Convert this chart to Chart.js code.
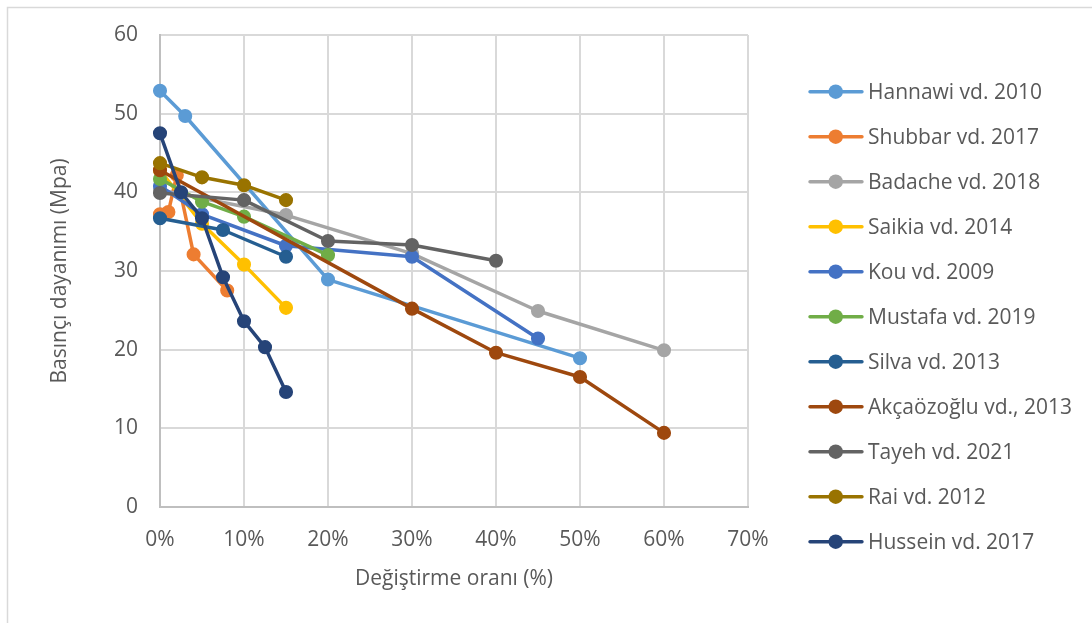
<!DOCTYPE html>
<html lang="tr">
<head>
<meta charset="utf-8">
<title>Basınç dayanımı – değiştirme oranı</title>
<script src="https://cdn.jsdelivr.net/npm/chart.js@4.4.1/dist/chart.umd.min.js"></script>
<style>
  html, body { margin: 0; padding: 0; background: #ffffff; }
  #wrap { width: 1092px; height: 623px; }
</style>
</head>
<body>
<div id="wrap"><canvas id="c" width="1092" height="623"></canvas></div>
<script>
// Replacement ratio (%) and compressive strength (MPa) for each study
const hannawiX = [0, 3, 20, 50];
const hannawiY = [52.9, 49.7, 28.9, 18.9];
const shubbarX = [0, 1, 2, 4, 8];
const shubbarY = [37.2, 37.5, 42.2, 32.1, 27.5];
const badacheX = [0, 15, 30, 45, 60];
const badacheY = [40.3, 37.1, 32.2, 24.9, 19.9];
const saikiaX = [0, 5, 10, 15];
const saikiaY = [42.8, 36.0, 30.8, 25.3];
const kouX = [0, 5, 15, 30, 45];
const kouY = [40.8, 37.2, 33.2, 31.8, 21.4];
const mustafaX = [0, 5, 10, 20];
const mustafaY = [41.7, 38.8, 36.9, 32.0];
const silvaX = [0, 7.5, 15];
const silvaY = [36.7, 35.2, 31.8];
const akcaX = [0, 30, 40, 50, 60];
const akcaY = [42.8, 25.2, 19.6, 16.5, 9.4];
const tayehX = [0, 10, 20, 30, 40];
const tayehY = [39.9, 39.0, 33.8, 33.3, 31.3];
const raiX = [0, 5, 10, 15];
const raiY = [43.7, 41.9, 40.9, 39.0];
const husseinX = [0, 2.5, 5, 7.5, 10, 12.5, 15];
const husseinY = [47.5, 40.0, 36.7, 29.2, 23.6, 20.3, 14.6];

const seriesNames = [
  'Hannawi vd. 2010', 'Shubbar vd. 2017', 'Badache vd. 2018', 'Saikia vd. 2014',
  'Kou vd. 2009', 'Mustafa vd. 2019', 'Silva vd. 2013', 'Akçaözoğlu vd., 2013',
  'Tayeh vd. 2021', 'Rai vd. 2012', 'Hussein vd. 2017'
];
const seriesX = [hannawiX, shubbarX, badacheX, saikiaX, kouX, mustafaX, silvaX, akcaX, tayehX, raiX, husseinX];
const seriesY = [hannawiY, shubbarY, badacheY, saikiaY, kouY, mustafaY, silvaY, akcaY, tayehY, raiY, husseinY];
const seriesColors = [
  '#5B9BD5', '#ED7D31', '#A5A5A5', '#FFC000', '#4472C4', '#70AD47',
  '#255E91', '#9E480E', '#636363', '#997300', '#264478'
];

const xTicks = [0, 10, 20, 30, 40, 50, 60, 70];
const yTicks = [0, 10, 20, 30, 40, 50, 60];

const FONT = "'Open Sans', 'Noto Sans', sans-serif";
const TEXT = '#595959';

const datasets = seriesNames.map((name, i) => ({
  label: name,
  data: seriesX[i].map((x, j) => ({ x: x, y: seriesY[i][j] })),
  borderColor: seriesColors[i],
  backgroundColor: seriesColors[i],
  pointBackgroundColor: seriesColors[i],
  pointBorderColor: seriesColors[i],
  borderWidth: 3.5,
  pointRadius: 6.3,
  pointBorderWidth: 1.5,
  pointHoverRadius: 6.3,
  borderCapStyle: 'round',
  borderJoinStyle: 'round',
  tension: 0,
  fill: false,
  clip: false,
  // later series sit on top, as in the legend order
  order: seriesNames.length - i
}));

// white page with a thin frame around the chart object
const framePlugin = {
  id: 'frame',
  beforeDraw(chart) {
    const ctx = chart.ctx;
    ctx.save();
    ctx.fillStyle = '#ffffff';
    ctx.fillRect(0, 0, chart.width, chart.height);
    ctx.strokeStyle = '#D9D9D9';
    ctx.lineWidth = 1.5;
    ctx.strokeRect(7.5, 7.5, chart.width + 50, chart.height + 50);
    ctx.restore();
  }
};

// legend on the right: short line with a round marker, then the study name
const sideLegend = {
  id: 'sideLegend',
  afterDraw(chart) {
    const ctx = chart.ctx;
    const top = 91.7, step = 45;
    chart.data.datasets.forEach((ds, i) => {
      const y = top + i * step;
      ctx.save();
      ctx.strokeStyle = ds.borderColor;
      ctx.lineWidth = 3.4;
      ctx.lineCap = 'round';
      ctx.beginPath();
      ctx.moveTo(810, y);
      ctx.lineTo(862, y);
      ctx.stroke();
      ctx.fillStyle = ds.borderColor;
      ctx.beginPath();
      ctx.arc(835.7, y, 7.2, 0, Math.PI * 2);
      ctx.fill();
      ctx.fillStyle = TEXT;
      ctx.font = '21px ' + FONT;
      ctx.textBaseline = 'middle';
      ctx.textAlign = 'left';
      ctx.fillText(ds.label, 868, y + 1);
      ctx.restore();
    });
  }
};

new Chart(document.getElementById('c'), {
  type: 'line',
  data: { datasets: datasets },
  plugins: [framePlugin, sideLegend],
  options: {
    responsive: false,
    devicePixelRatio: 1,
    animation: false,
    events: [],
    layout: { padding: { top: 35, right: 344, bottom: 0, left: 0 } },
    plugins: {
      legend: { display: false },
      tooltip: { enabled: false }
    },
    scales: {
      x: {
        type: 'linear',
        min: 0,
        max: 70,
        afterBuildTicks(scale) { scale.ticks = xTicks.map(v => ({ value: v })); },
        afterFit(scale) { scale.height = 116.2; },
        grid: { color: '#D9D9D9', lineWidth: 2, drawTicks: false },
        border: { color: '#BFBFBF', width: 2 },
        ticks: {
          padding: 21,
          color: TEXT,
          font: { family: FONT, size: 21 },
          maxRotation: 0,
          callback: v => v + '%'
        },
        title: {
          display: true,
          text: 'Değiştirme oranı (%)',
          color: TEXT,
          font: { family: FONT, size: 21 },
          padding: { top: 31, bottom: 31 }
        }
      },
      y: {
        type: 'linear',
        min: 0,
        max: 60,
        afterBuildTicks(scale) { scale.ticks = yTicks.map(v => ({ value: v })); },
        afterFit(scale) { scale.width = 160; },
        grid: { color: '#D9D9D9', lineWidth: 2, drawTicks: false },
        border: { color: '#BFBFBF', width: 2 },
        ticks: {
          padding: 22,
          color: TEXT,
          font: { family: FONT, size: 21 }
        },
        title: {
          display: true,
          text: 'Basınçı dayanımı (Mpa)',
          color: TEXT,
          font: { family: FONT, size: 21 },
          padding: { top: 47, bottom: 0 }
        }
      }
    }
  }
});
</script>
</body>
</html>
